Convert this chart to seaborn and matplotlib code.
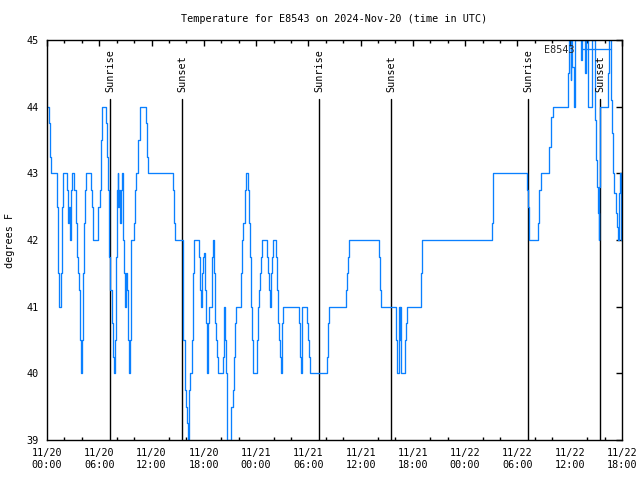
import numpy as np
import pandas as pd
import matplotlib
matplotlib.use("Agg")
import matplotlib.pyplot as plt
import matplotlib.dates as mdates
import seaborn as sns

# ---------------- data ----------------
station = "E8543"
start = "2024-11-20 00:00"
end = "2024-11-22 18:00"

# hours since start, temperature (deg F) -- step series
hours = [0.00, 0.19, 0.31, 0.42, 1.19, 1.30, 1.42, 1.64, 1.76, 1.87,
         2.33, 2.45, 2.56, 2.68, 2.79, 2.91, 3.14, 3.29, 3.41, 3.52,
         3.64, 3.75, 3.83, 3.90, 3.98, 4.09, 4.21, 4.32, 4.44, 5.09,
         5.20, 5.32, 5.89, 6.05, 6.24, 6.35, 6.73, 6.85, 6.96, 7.08,
         7.15, 7.27, 7.42, 7.54, 7.61, 7.69, 7.81, 7.88, 7.96, 8.03,
         8.11, 8.19, 8.26, 8.38, 8.49, 8.61, 8.69, 8.76, 8.88, 8.95,
         9.07, 9.18, 9.30, 9.41, 9.53, 9.60, 9.68, 9.95, 10.10, 10.25,
         10.48, 10.67, 11.40, 11.52, 11.63, 14.43, 14.58, 14.73, 15.58, 15.65,
         15.88, 15.99, 16.10, 16.18, 16.30, 16.45, 16.68, 16.79, 16.91, 17.41,
         17.52, 17.60, 17.68, 17.75, 17.87, 17.98, 18.10, 18.21, 18.33, 18.40,
         18.52, 18.63, 18.98, 19.09, 19.17, 19.28, 19.40, 19.55, 19.67, 20.16,
         20.28, 20.36, 20.43, 20.55, 20.66, 21.12, 21.31, 21.43, 21.58, 21.66,
         22.23, 22.38, 22.54, 22.69, 22.84, 23.11, 23.22, 23.34, 23.45, 23.57,
         23.68, 24.14, 24.25, 24.37, 24.48, 24.60, 24.72, 25.29, 25.40, 25.52,
         25.60, 25.71, 25.83, 25.94, 26.29, 26.40, 26.55, 26.67, 26.78, 26.89,
         26.97, 27.13, 28.96, 29.07, 29.19, 29.30, 29.88, 29.99, 30.11, 30.22,
         32.18, 32.29, 32.41, 34.36, 34.47, 34.59, 34.70, 38.15, 38.26, 38.37,
         40.02, 40.14, 40.37, 40.48, 40.56, 40.63, 41.13, 41.24, 41.36, 42.93,
         43.04, 51.10, 51.19, 55.13, 55.21, 55.37, 56.40, 56.51, 56.66, 57.66,
         57.81, 58.08, 59.76, 59.88, 60.10, 60.20, 60.30, 60.45, 60.60, 61.30,
         61.41, 61.75, 61.90, 62.05, 62.15, 62.50, 62.85, 62.95, 63.05, 63.15,
         63.25, 63.32, 63.37, 63.45, 64.34, 64.50, 64.70, 64.82, 64.95, 65.10,
         65.30, 65.45, 65.58, 65.68, 65.77, 65.88, 66.00]
temps = [44.0, 43.75, 43.25, 43.0, 42.5, 41.5, 41.0, 41.5, 42.5, 43.0,
         42.75, 42.25, 42.5, 42.0, 42.75, 43.0, 42.75, 42.25, 41.75, 41.5,
         41.25, 40.75, 40.5, 40.0, 40.5, 41.5, 42.25, 42.75, 43.0, 42.75,
         42.5, 42.0, 42.5, 42.75, 43.5, 44.0, 43.75, 43.25, 42.75, 42.25,
         41.75, 41.25, 40.75, 40.5, 40.25, 40.0, 40.5, 41.25, 41.75, 42.75,
         43.0, 42.5, 42.75, 42.25, 42.75, 43.0, 42.5, 42.0, 41.5, 41.0,
         41.5, 41.25, 40.5, 40.0, 40.5, 41.25, 42.0, 42.25, 42.75, 43.0,
         43.5, 44.0, 43.75, 43.25, 43.0, 42.75, 42.25, 42.0, 41.5, 40.5,
         39.75, 39.5, 39.25, 39.0, 39.75, 40.0, 40.5, 41.5, 42.0, 41.75,
         41.5, 41.25, 41.0, 41.5, 41.75, 41.8, 41.25, 40.75, 40.25, 40.0,
         40.75, 41.0, 41.75, 42.0, 41.5, 40.75, 40.5, 40.25, 40.0, 40.25,
         40.75, 41.0, 40.5, 40.0, 39.0, 39.5, 39.75, 40.25, 40.75, 41.0,
         41.5, 42.0, 42.25, 42.75, 43.0, 42.75, 42.25, 41.75, 41.0, 40.5,
         40.0, 40.5, 41.0, 41.25, 41.5, 41.75, 42.0, 41.75, 41.5, 41.25,
         41.0, 41.5, 41.75, 42.0, 41.75, 41.25, 40.75, 40.5, 40.25, 40.0,
         40.75, 41.0, 40.75, 40.25, 40.0, 41.0, 40.75, 40.5, 40.25, 40.0,
         40.25, 40.75, 41.0, 41.25, 41.5, 41.75, 42.0, 41.75, 41.25, 41.0,
         40.5, 40.0, 41.0, 40.5, 41.0, 40.0, 40.5, 40.75, 41.0, 41.5,
         42.0, 42.25, 43.0, 42.75, 42.5, 42.0, 42.25, 42.75, 43.0, 43.4,
         43.85, 44.0, 44.5, 45.0, 44.4, 45.0, 44.6, 44.0, 45.0, 44.7,
         45.0, 44.5, 45.0, 44.5, 44.0, 45.0, 44.6, 43.8, 43.2, 42.8,
         42.4, 42.0, 42.8, 44.0, 44.5, 45.0, 44.1, 43.6, 43.0, 42.7,
         42.4, 42.2, 42.0, 42.7, 43.0, 42.0, 42.0]

sun_labels = ["Sunrise", "Sunset", "Sunrise", "Sunset", "Sunrise", "Sunset"]
sun_times = ["2024-11-20 07:16", "2024-11-20 15:32",
             "2024-11-21 07:16", "2024-11-21 15:31",
             "2024-11-22 07:15", "2024-11-22 15:30"]

y_ticks = [39, 40, 41, 42, 43, 44, 45]
title = "Temperature for E8543 on 2024-Nov-20 (time in UTC)"
y_label = "degrees F"

# ---------------- plot ----------------
sns.set_theme(style="white")
plt.rcParams["font.family"] = ["DejaVu Sans Mono"]
plt.rcParams["font.size"] = 7.3

df = pd.DataFrame({"time": pd.Timestamp(start) + pd.to_timedelta(hours, unit="h"),
                   "temp": temps})

fig = plt.figure(figsize=(6.4, 4.8), dpi=100)
W, H = 640, 480
L, R, T, B = 47, 622, 40, 440
ax = fig.add_axes([L / W, 1 - B / H, (R - L) / W, (B - T) / H])

line_color = "#0a80ff"

# sunrise / sunset markers
y_line_top = 45 - (99 - 40) / ((B - T) / 6)
for lab, t in zip(sun_labels, sun_times):
    tt = pd.Timestamp(t)
    ax.plot([tt, tt], [39, y_line_top], color="black", lw=1.0, zorder=1)
    ax.text(tt, 44.22, lab, rotation=90, ha="center", va="bottom",
            fontsize=7.3, color="black", zorder=3)

sns.lineplot(data=df, x="time", y="temp", drawstyle="steps-post",
             color=line_color, lw=0.95, estimator=None, sort=False,
             label=station, ax=ax, zorder=2)

ax.set_xlim(pd.Timestamp(start), pd.Timestamp(end))
ax.set_ylim(39, 45)
ax.set_yticks(y_ticks)
ax.set_yticklabels([str(v) for v in y_ticks])

ax.xaxis.set_major_locator(mdates.HourLocator(byhour=[0, 6, 12, 18]))
ax.xaxis.set_minor_locator(mdates.HourLocator(byhour=range(0, 24, 2)))
ax.xaxis.set_major_formatter(mdates.DateFormatter("%m/%d\n%H:%M"))

ax.tick_params(axis="both", which="major", direction="in", length=4.0,
               width=1.0, color="black", top=True, right=True,
               labelsize=7.3, labelcolor="black")
ax.tick_params(axis="x", which="major", pad=6.0)
ax.tick_params(axis="y", which="major", pad=5.8)
ax.tick_params(axis="x", which="minor", direction="in", length=2.2,
               width=1.0, color="black", top=True, bottom=True)
for lab in ax.get_xticklabels():
    lab.set_linespacing(1.25)

for s in ax.spines.values():
    s.set_color("black")
    s.set_linewidth(1.0)
    s.set_visible(True)

ax.set_xlabel("")
ax.set_ylabel("")
fig.text(10 / W, 1 - 240 / H, y_label, rotation=90, ha="center", va="center",
         fontsize=7.3, color="black")
fig.text((L + R) / 2 / W, 1 - 19 / H, title, ha="center", va="center",
         fontsize=7.3, color="black")

leg = ax.legend(loc="upper right", bbox_to_anchor=(1 - 11 / 575, 1 - 5 / 400),
                frameon=False, markerfirst=False, borderaxespad=0, borderpad=0,
                handlelength=2.9, handletextpad=0.7, fontsize=7.3)

fig.savefig("out.png", dpi=100, facecolor="white")
